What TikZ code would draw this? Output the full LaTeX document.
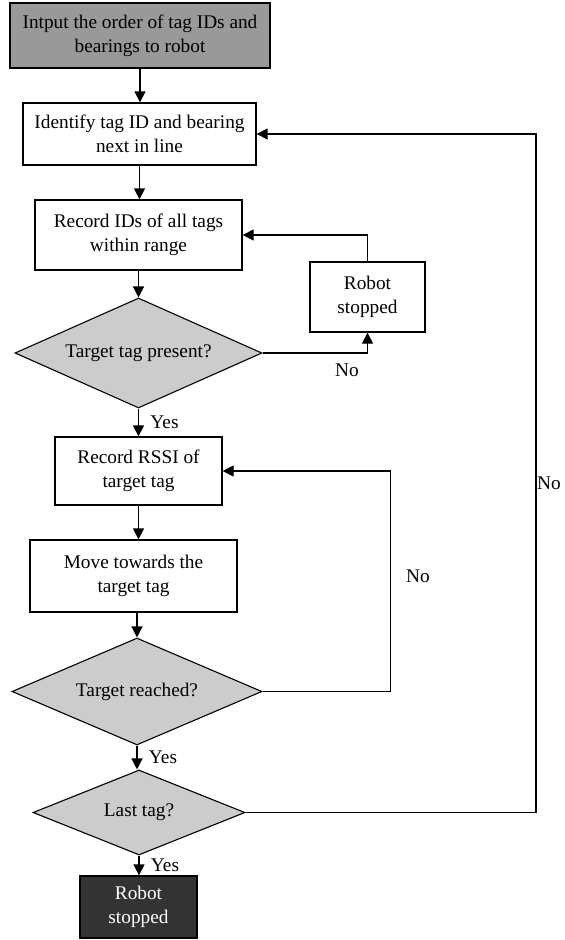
\documentclass[tikz,border=0pt]{standalone}
\usepackage{fontspec}
\setmainfont{Liberation Serif}
\usepackage{tikz}
\usetikzlibrary{shapes.geometric, arrows.meta, positioning}
\definecolor{startgray}{HTML}{999999}
\definecolor{askgray}{HTML}{CCCCCC}
\definecolor{endgray}{HTML}{333333}
\tikzset{
  box/.style={draw, line width=1.3pt, align=center, inner sep=0pt, fill=white},
  ask/.style={diamond, draw, line width=1.1pt, align=center, inner sep=0pt, fill=askgray},
  flow/.style={line width=1.3pt, -{Triangle[length=11pt,width=11pt]}},
  yes/.style={right, xshift=8pt}
}
\begin{document}
\begin{tikzpicture}[x=1pt, y=-1pt, font=\fontsize{19.3}{24}\selectfont]
        \useasboundingbox (0,0) rectangle (565,940);
        \node[box, fill=startgray, minimum width=260pt, minimum height=65pt] (input) at (140,35.5) {Intput the order of tag IDs and\\bearings to robot};
        \node[box, minimum width=233pt, minimum height=62pt] (ident) at (139.5,134) {Identify tag ID and bearing\\next in line};
        \node[box, minimum width=207pt, minimum height=70pt] (record) at (138.5,235) {Record IDs of all tags\\within range};
        \node[box, minimum width=115pt, minimum height=70pt] (halt) at (367.5,297) {Robot\\stopped};
        \node[ask, aspect=2.25, minimum width=247pt, minimum height=110pt] (present) at (138.5,353) {Target tag present?};
        \node[box, minimum width=167pt, minimum height=68pt] (rssi) at (138.5,471) {Record RSSI of\\target tag};
        \node[box, minimum width=207pt, minimum height=72pt] (move) at (133.5,576) {Move towards the\\target tag};
        \node[ask, aspect=2.34, minimum width=250pt, minimum height=107pt] (reached) at (137,691.5) {Target reached?};
        \node[ask, aspect=2.5, minimum width=212pt, minimum height=85pt] (last) at (139,812.5) {Last tag?};
        \node[box, fill=endgray, text=white, minimum width=117pt, minimum height=62pt] (done) at (138.5,907) {Robot\\stopped};

        \draw[flow] (input.south) -- (input.south |- ident.north);
        \draw[flow] (ident.south) -- (ident.south |- record.north);
        \draw[flow] (record.south) -- (record.south |- present.north);
        \draw[flow] (present.east) -| (halt.south);
        \draw[flow] (halt.north) |- (record.east);
        \draw[flow] (present.south) -- node[yes] {Yes} (present.south |- rssi.north);
        \draw[flow] (rssi.south) -- (rssi.south |- move.north);
        \draw[flow] (move.south -| reached.north) -- (reached.north);
        \draw[flow] (reached.east) -- ++(128,0) |- (rssi.east);
        \draw[flow] (reached.south) -- node[yes] {Yes} (reached.south |- last.north);
        \draw[flow] (last.east) -- (536,812.5) |- (ident.east);
        \draw[flow] (last.south) -- node[yes] {Yes} (last.south |- done.north);

        \node (no1) at (347,370) {No};
        \node (no2) at (418,576) {No};
        \node (no3) at (549,483) {No};
\end{tikzpicture}
\end{document}
